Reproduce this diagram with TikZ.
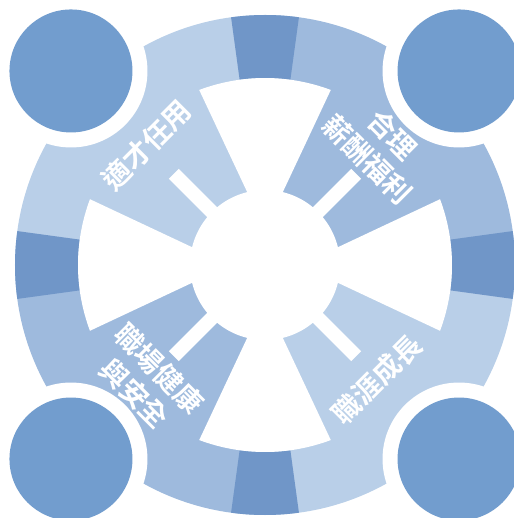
\documentclass[tikz,border=0pt]{standalone}
\usepackage{fontspec}
\newfontfamily\cjk{Noto Sans CJK TC}[BoldFont={Noto Sans CJK TC Bold}]
\definecolor{ringdark}{HTML}{7096C8}
\definecolor{circblue}{HTML}{729DCE}
\definecolor{quadlight}{HTML}{B9CFE8}
\definecolor{quadmid}{HTML}{9EBADD}
\begin{document}
\begin{tikzpicture}[x=1pt,y=1pt,
  lbl/.style={text=white,font=\cjk\bfseries\fontsize{28}{35}\selectfont,align=center,inner sep=0pt}]
\useasboundingbox (-265,-253) rectangle (248,265);
% quadrants
\fill[quadlight] (0,0) -- (90:250) arc[start angle=90,end angle=180,radius=250] -- cycle;
\fill[quadmid] (0,0) -- (0:250) arc[start angle=0,end angle=90,radius=250] -- cycle;
\fill[quadmid] (0,0) -- (180:250) arc[start angle=180,end angle=270,radius=250] -- cycle;
\fill[quadlight] (0,0) -- (270:250) arc[start angle=270,end angle=360,radius=250] -- cycle;
% dark bands and white wedges
\foreach \a in {0,90,180,270} {
  \fill[ringdark] (\a-7.8:187) arc[start angle=\a-7.8,end angle=\a+7.8,radius=187]
     -- (\a+7.8:250) arc[start angle=\a+7.8,end angle=\a-7.8,radius=250] -- cycle;
  \fill[white] (\a:35) -- (\a-20.6:187) arc[start angle=\a-20.6,end angle=\a+20.6,radius=187] -- cycle;
}
% centre
\fill[white] (0,0) circle[radius=75];
% slits
\foreach \a in {45,135,225,315} {
  \fill[white,rotate=\a] (40,-7) rectangle (129,7);
}
% corner circles
\foreach \a in {45,135,225,315} {
  \fill[white] (\a:274.4) circle[radius=76.5];
  \fill[circblue] (\a:274.4) circle[radius=61.5];
}
% labels
\node[lbl,rotate=45] (t1) at (-118.5,120) {適才任用};
\node[lbl,rotate=-45] (t2) at (115,118) {合理\\薪酬福利};
\node[lbl,rotate=-45] (t3) at (-118,-116) {職場健康\\與安全};
\node[lbl,rotate=45] (t4) at (112,-114.5) {職涯成長};
\end{tikzpicture}
\end{document}
